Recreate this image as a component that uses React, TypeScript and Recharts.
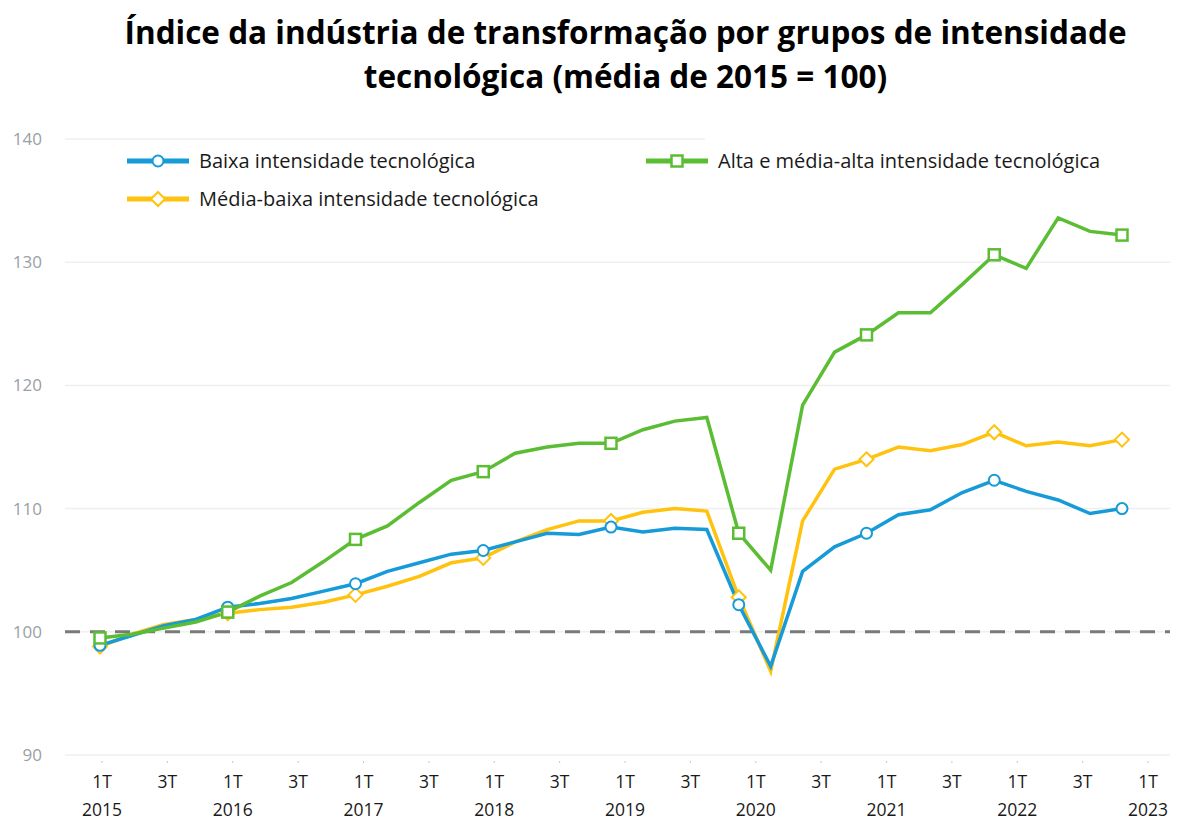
import React from 'react';
import { LineChart, Line, XAxis, YAxis, CartesianGrid, ReferenceLine } from 'recharts';

const FONT = '"Open Sans", "Noto Sans", sans-serif';

// trimestres 1T 2015 .. 1T 2023
const quarters = [
  '2015-1', '2015-2', '2015-3', '2015-4',
  '2016-1', '2016-2', '2016-3', '2016-4',
  '2017-1', '2017-2', '2017-3', '2017-4',
  '2018-1', '2018-2', '2018-3', '2018-4',
  '2019-1', '2019-2', '2019-3', '2019-4',
  '2020-1', '2020-2', '2020-3', '2020-4',
  '2021-1', '2021-2', '2021-3', '2021-4',
  '2022-1', '2022-2', '2022-3', '2022-4',
  '2023-1',
];

const tickTop = [
  '1T', '', '3T', '', '1T', '', '3T', '', '1T', '', '3T', '', '1T', '', '3T', '', '1T',
  '', '3T', '', '1T', '', '3T', '', '1T', '', '3T', '', '1T', '', '3T', '', '1T',
];
const tickBottom = [
  '2015', '', '', '', '2016', '', '', '', '2017', '', '', '', '2018', '', '', '', '2019',
  '', '', '', '2020', '', '', '', '2021', '', '', '', '2022', '', '', '', '2023',
];

const baixa = [
  98.9, 99.7, 100.5, 101.0, 102.0, 102.3, 102.7, 103.3,
  103.9, 104.9, 105.6, 106.3, 106.6, 107.3, 108.0, 107.9,
  108.5, 108.1, 108.4, 108.3, 102.2, 97.2, 104.9, 106.9,
  108.0, 109.5, 109.9, 111.3, 112.3, 111.4, 110.7, 109.6,
  110.0,
];

const mediaBaixa = [
  98.8, 99.8, 100.6, 101.0, 101.5, 101.8, 102.0, 102.4,
  103.0, 103.7, 104.5, 105.6, 106.0, 107.3, 108.3, 109.0,
  109.0, 109.7, 110.0, 109.8, 102.8, 96.8, 109.0, 113.2,
  114.0, 115.0, 114.7, 115.2, 116.2, 115.1, 115.4, 115.1,
  115.6,
];

const alta = [
  99.5, 99.8, 100.3, 100.8, 101.6, 102.9, 104.0, 105.7,
  107.5, 108.6, 110.5, 112.3, 113.0, 114.5, 115.0, 115.3,
  115.3, 116.4, 117.1, 117.4, 108.0, 105.0, 118.4, 122.7,
  124.1, 125.9, 125.9, 128.2, 130.6, 129.5, 133.6, 132.5,
  132.2,
];

const yTicks = [90, 100, 110, 120, 130, 140];

const BLUE = '#169bd8';
const YELLOW = '#ffc20e';
const GREEN = '#5bbd33';

const data = quarters.map((q, i) => ({
  q,
  baixa: baixa[i],
  mediaBaixa: mediaBaixa[i],
  alta: alta[i],
}));

type Shape = 'circle' | 'diamond' | 'square';

function Marker({ cx, cy, shape, color }: { cx: number; cy: number; shape: Shape; color: string }) {
  if (shape === 'circle') {
    return <circle cx={cx} cy={cy} r={5.5} fill="#fff" stroke={color} strokeWidth={2} />;
  }
  if (shape === 'diamond') {
    const s = 7;
    return (
      <polygon
        points={`${cx},${cy - s} ${cx + s},${cy} ${cx},${cy + s} ${cx - s},${cy}`}
        fill="#fff"
        stroke={color}
        strokeWidth={2}
      />
    );
  }
  return <rect x={cx - 5.5} y={cy - 5.5} width={11} height={11} fill="#fff" stroke={color} strokeWidth={2.5} />;
}

// marcador só no 1º trimestre de cada ano
function makeDot(shape: Shape, color: string) {
  // eslint-disable-next-line @typescript-eslint/no-explicit-any
  return (props: any) => {
    const { cx, cy, index } = props;
    if (index % 4 !== 0 || cx == null || cy == null) return <g key={`d-${index}`} />;
    return <Marker key={`d-${index}`} cx={cx} cy={cy} shape={shape} color={color} />;
  };
}

// eslint-disable-next-line @typescript-eslint/no-explicit-any
function QuarterTick({ x, y, payload }: any) {
  const i = payload.index;
  const top = tickTop[i];
  const bottom = tickBottom[i];
  if (!top) return null;
  return (
    <g>
      <line x1={x} x2={x} y1={y - 2} y2={y} stroke="#c8c8c8" strokeWidth={1} />
      <text x={x} y={y + 25} textAnchor="middle" fontSize={17.5} fontFamily={FONT} fill="#1a1a1a">
        {top}
      </text>
      {bottom && (
        <text x={x} y={y + 53} textAnchor="middle" fontSize={17.5} fontFamily={FONT} fill="#1a1a1a">
          {bottom}
        </text>
      )}
    </g>
  );
}

function LegendIcon({ shape, color }: { shape: Shape; color: string }) {
  return (
    <svg width={66} height={20} style={{ display: 'block' }}>
      <line x1={2} x2={64} y1={10} y2={10} stroke={color} strokeWidth={5} />
      <Marker cx={33} cy={10} shape={shape} color={color} />
    </svg>
  );
}

const legendItems = [
  { name: 'Baixa intensidade tecnológica', shape: 'circle' as Shape, color: BLUE, left: 125, top: 147 },
  { name: 'Alta e média-alta intensidade tecnológica', shape: 'square' as Shape, color: GREEN, left: 644, top: 147 },
  { name: 'Média-baixa intensidade tecnológica', shape: 'diamond' as Shape, color: YELLOW, left: 125, top: 185 },
];

export default function App() {
  return (
    <div
      style={{
        position: 'absolute',
        left: 0,
        top: 0,
        width: 1181,
        height: 823,
        background: '#fff',
        overflow: 'hidden',
        fontFamily: FONT,
      }}
    >
      <LineChart
        width={1181}
        height={823}
        data={data}
        margin={{ top: 139, right: 11, left: 0, bottom: 8 }}
      >
        <CartesianGrid vertical={false} stroke="#efefef" strokeWidth={1.5} xAxisId="data" />
        <XAxis xAxisId="data" dataKey="q" hide height={0} padding={{ left: 35, right: 48 }} />
        <XAxis
          xAxisId="lbl"
          dataKey="q"
          interval={0}
          padding={{ left: 37, right: 22 }}
          axisLine={false}
          tickLine={false}
          tick={<QuarterTick />}
          height={60}
        />
        <YAxis
          domain={[90, 140]}
          ticks={yTicks}
          width={65}
          axisLine={false}
          tickLine={false}
          tickSize={0}
          tickMargin={23}
          tick={{ fontSize: 17, fill: '#9aa0a6', fontFamily: FONT }}
        />
        <ReferenceLine xAxisId="data" y={100} stroke="#7a7a7a" strokeWidth={3} strokeDasharray="15 10" />
        <Line
          xAxisId="data"
          type="linear"
          dataKey="mediaBaixa"
          stroke={YELLOW}
          strokeWidth={3.5}
          dot={makeDot('diamond', YELLOW)}
          isAnimationActive={false}
        />
        <Line
          xAxisId="data"
          type="linear"
          dataKey="baixa"
          stroke={BLUE}
          strokeWidth={3.5}
          dot={makeDot('circle', BLUE)}
          isAnimationActive={false}
        />
        <Line
          xAxisId="data"
          type="linear"
          dataKey="alta"
          stroke={GREEN}
          strokeWidth={3.5}
          dot={makeDot('square', GREEN)}
          isAnimationActive={false}
        />
      </LineChart>

      <div
        style={{
          position: 'absolute',
          left: 70,
          top: 10,
          width: 1111,
          textAlign: 'center',
          fontSize: 31.5,
          fontWeight: 700,
          lineHeight: '44px',
          color: '#000',
        }}
      >
        Índice da indústria de transformação por grupos de intensidade
        <br />
        tecnológica (média de 2015 = 100)
      </div>

      <div style={{ position: 'absolute', left: 705, top: 128, width: 476, height: 60, background: '#fff' }} />
      {legendItems.map((it) => (
        <div
          key={it.name}
          style={{
            position: 'absolute',
            left: it.left,
            top: it.top,
            display: 'flex',
            alignItems: 'center',
            gap: 8,
            fontSize: 20,
            color: '#1a1a1a',
            whiteSpace: 'nowrap',
          }}
        >
          <LegendIcon shape={it.shape} color={it.color} />
          <span>{it.name}</span>
        </div>
      ))}
    </div>
  );
}
